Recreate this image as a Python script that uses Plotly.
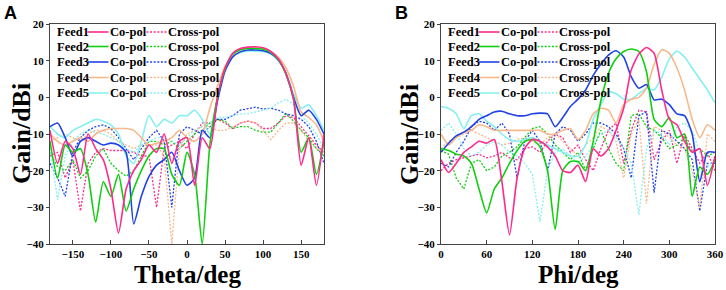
import plotly.graph_objects as go

# ---------------- data ----------------
theta = list(range(-180, 181, 10))
phi = list(range(0, 361, 10))

feeds = ["Feed1", "Feed2", "Feed3", "Feed4", "Feed5"]
colors = ["#FF2A8C", "#10CF10", "#2142E6", "#F7B98C", "#86F0F0"]

# Panel A (Theta cut) co-pol
a_f1_co = [-9, -18, -12, -14, -21, -10, -14, -17, -25, -37, -25, -20, -17, -13, -15, -10, -18, -12,
           -11, -24, -11, -14, 0, 8, 12, 13.3, 13.7, 13.8, 13.5, 12.5, 10.5, 6.5, -0.5, -18.5, -11, -24, -10]
a_f2_co = [-12, -22, -13, -15, -14, -21, -34, -23, -27, -21, -31, -25, -20, -16, -14, -14, -21, -24,
           -15, -21, -40, -13, 0, 7.8, 11.8, 13, 13.3, 13.3, 13.1, 12.3, 10.3, 6.3, -0.5, -15, -11, -21, -12]
a_f3_co = [-8, -7, -11, -16, -12, -11, -12, -13, -12.5, -13, -15, -34.5, -27, -21.6, -18.5, -17, -15, -20,
           -24, -22, -9, -11, -1, 7.2, 11, 12.4, 12.9, 12.9, 12.7, 12, 10.2, 6.5, 0, -5, -3.5, -6, -10]
a_f4_co = [-10, -12, -13, -12, -11, -12, -10, -9, -8.5, -8.5, -8.5, -9, -11, -13, -12.5, -12, -11, -9,
           -11, -12, -10, -3, 3, 8.5, 11.5, 13, 13.5, 13.5, 13.3, 12.5, 11, 8, 3, -4, -5.5, -7.5, -12]
a_f5_co = [-8, -10, -11, -9, -8, -7, -6, -6.5, -7.5, -10, -16, -18, -12, -5, -8, -6, -7, -5,
           -5, -3.5, -6, -10, 0, 7.5, 11, 12.2, 12.6, 12.6, 12.5, 11.8, 10, 6.8, 1, -3, -2, -5, -9]

# Panel A cross-pol
a_f1_x = [-16, -15, -22, -17, -31, -18, -15, -14, -14.5, -14.5, -14.5, -15, -16, -16, -30, -14, -13, -12,
          -14, -10, -7, -7, -6, -7, -8.5, -7, -6.5, -7, -8.5, -8.5, -7, -5, -5.5, -8, -10.5, -13, -15]
a_f2_x = [-15, -19, -20, -17, -22, -20, -16, -14, -18, -20, -21.5, -20, -16, -12, -12, -13, -12, -14,
          -12, -10, -9, -7, -6, -6.5, -8.5, -8, -8, -9, -9.5, -9.5, -7, -4.3, -6.5, -9, -11, -14, -16]
a_f3_x = [-18, -22, -27, -15, -11, -9, -8, -7.5, -8.5, -11, -14, -17, -14, -11, -9, -12, -30, -10,
          -8, -9, -10, -8, -6, -6, -5, -3.5, -3, -2.7, -3.2, -3, -3.5, -4.5, -5, -6, -8, -12, -18]
a_f4_x = [-12, -11, -10, -11, -12, -10, -9, -9, -10, -12, -13, -14, -13, -13, -13, -16, -40, -14,
          -10, -9, -8, -8, -9, -9, -8, -7, -6.5, -7, -9, -11.5, -9, -7, -7, -9, -12, -14, -15]
a_f5_x = [-14, -28, -16, -12, -10, -9, -9.5, -10, -11, -12, -14, -15, -13, -12, -11, -11, -12, -13,
          -11, -9, -8, -7, -5.5, -5.5, -5, -4.5, -4.5, -4, -3.5, -3, -1.5, -0.5, -2, -5, -7, -10, -14]

# Panel B (Phi cut) co-pol
b_f1_co = [-17, -20.5, -18, -15, -13.5, -12, -12.5, -11.5, -23, -37.5,
           -22, -14, -11.5, -12, -13.5, -16, -20, -20.5, -18.5, -23,
           -14, -16, -14, -9, -3, 7.5, 11.8, 13.6, 12, 2,
           -6, -7.5, -12, -15, -14, -24, -16]
b_f2_co = [-14, -14.5, -15.5, -16, -18, -25, -31.5, -25, -22, -18,
           -14.5, -12, -11.5, -13.5, -20, -36, -20, -17.5, -17.5, -20,
           -12, -1, 6.5, 10.5, 12.5, 13.2, 12.5, 7, -6, -8,
           -5.5, -11, -10, -27, -19, -21, -17]
b_f3_co = [-15, -12.5, -10.5, -9.5, -8, -6, -5, -4, -3.8, -4.5,
           -5, -5, -4.5, -4.3, -4.5, -8, -5.5, -2.5, -0.5, 2,
           6, 9, 11.5, 12.7, 11, 5.6, 2.5, 3.5, -0.7, -0.5,
           -2, -4.5, -5, -10, -23, -15, -15]
b_f4_co = [-10, -13, -11, -9.5, -9, -7.5, -8, -9, -9, -9,
           -9, -9, -9, -9, -10, -10, -9, -8.5, -11.5, -9,
           -4.5, -3, -3.5, -7, -2, -0.5, 0, 2.5, 9, 13,
           12, 8, 2, -6, -11, -7.5, -9]
b_f5_co = [-2.5, -3, -4.5, -8.5, -5, -4.5, -6.5, -8, -10, -11.5,
           -12, -11.5, -11, -12, -13, -14, -15, -16, -16, -13,
           -6, -2, 1.5, 1, -0.5, -0.5, 1, 2.5, 2, 5.5,
           10.5, 12.6, 11, 8, 5, 2, -1.5]

# Panel B cross-pol
b_f1_x = [-20, -18, -17, -16.5, -16, -15.5, -16.5, -16, -15, -16.5,
          -17, -14, -13.5, -15, -12, -10, -11, -15, -13, -17,
          -20, -14, -9, -7, -18, -9, -3.5, -4, -17, -12,
          -9, -18, -10, -14, -18, -15, -20]
b_f2_x = [-14.5, -15.5, -22, -25, -18, -17, -20, -19, -16, -15,
          -13.5, -11, -8.5, -8, -10, -13, -15, -17, -15, -20,
          -14, -9, -14, -18, -20, -5, -4.5, -8, -9, -11,
          -14, -13, -11, -15, -14, -16, -15]
b_f3_x = [-18, -19, -15, -12, -8, -6.5, -7, -9, -7, -10,
          -22, -12, -9, -12, -20, -10, -8, -9, -12, -10,
          -7, -7, -8, -10, -14, -22, -5, -4, -26, -9,
          -10, -12, -14, -17, -31, -18, -18]
b_f4_x = [-14, -12, -11, -10, -9, -10, -11, -12, -13, -12.5,
          -11.5, -11, -12, -13, -11, -10, -12, -14, -16, -13,
          -11, -8, -9, -12, -22, -10, -6, -29, -8, -9,
          -11, -13, -14, -20, -30, -10, -12]
b_f5_x = [-9, -7, -10, -14, -16, -15, -13, -12, -13, -15,
          -16, -18, -21, -34, -20, -15, -14, -16, -18, -16,
          -13, -10, -9, -11, -14, -18, -32, -14, -9, -10,
          -13, -8, -7, -9, -15, -19, -17]

a_co = [a_f1_co, a_f2_co, a_f3_co, a_f4_co, a_f5_co]
a_x = [a_f1_x, a_f2_x, a_f3_x, a_f4_x, a_f5_x]
b_co = [b_f1_co, b_f2_co, b_f3_co, b_f4_co, b_f5_co]
b_x = [b_f1_x, b_f2_x, b_f3_x, b_f4_x, b_f5_x]

x_ticks_a = [-150, -100, -50, 0, 50, 100, 150]
x_ticks_b = [0, 60, 120, 180, 240, 300, 360]
y_ticks = [-40, -30, -20, -10, 0, 10, 20]

# ---------------- figure ----------------
FONT = "Liberation Serif"
DOT = "2px,1.6px"
fig = go.Figure()

for xa, ya, ang, co, cx in [("x", "y", theta, a_co, a_x), ("x2", "y2", phi, b_co, b_x)]:
    for i in range(5):
        fig.add_trace(go.Scatter(x=ang, y=cx[i], mode="lines", xaxis=xa, yaxis=ya,
                                 line=dict(color=colors[i], width=1.3, dash=DOT),
                                 showlegend=False, hoverinfo="skip"))
    for i in range(4, -1, -1):
        fig.add_trace(go.Scatter(x=ang, y=co[i], mode="lines", xaxis=xa, yaxis=ya,
                                 line=dict(color=colors[i], width=1.6, shape="spline", smoothing=0.6),
                                 showlegend=False, hoverinfo="skip"))

W, H = 726, 290
ML, MR, MT, MB = 50, 11, 24, 46
PW = W - ML - MR
PH = H - MT - MB
pan_w = 274

tickfont = dict(family=FONT, size=11, color="black", weight="bold")
base = dict(showline=True, linecolor="#444", linewidth=1.2, mirror=True,
            showgrid=False, zeroline=False, automargin=False, tickfont=tickfont,
            tickcolor="#444", tickwidth=1)
xstyle = dict(base, ticks="inside", ticklen=4)
ystyle = dict(base, ticks="outside", ticklen=3)

fig.update_layout(
    width=W, height=H, margin=dict(l=ML, r=MR, t=MT, b=MB, autoexpand=False),
    paper_bgcolor="white", plot_bgcolor="white",
    xaxis=dict(domain=[0, pan_w / PW], range=[-180, 180], tickvals=x_ticks_a, anchor="y", **xstyle),
    yaxis=dict(domain=[0, 1], range=[-40, 20], tickvals=y_ticks, anchor="x", **ystyle),
    xaxis2=dict(domain=[1 - pan_w / PW, 1], range=[0, 360], tickvals=x_ticks_b, anchor="y2", **xstyle),
    yaxis2=dict(domain=[0, 1], range=[-40, 20], tickvals=y_ticks, anchor="x2", **ystyle),
)

# custom legend (text + key lines) inside each panel
row_px = [32, 46.5, 62, 77.5, 93]
leg_font = dict(family=FONT, size=12.5, color="black", weight="bold")
shapes = []
annos = []
for xr, yr in [("x domain", "y domain"), ("x2 domain", "y2 domain")]:
    for i, rp in enumerate(row_px):
        yd = 1 - (rp - MT) / PH
        for txt, off in [(feeds[i], 6), ("Co-pol", 59), ("Cross-pol", 117)]:
            annos.append(dict(text=txt, x=off / pan_w, y=yd, xref=xr, yref=yr, xanchor="left",
                              yanchor="middle", showarrow=False, font=leg_font, borderpad=0))
        shapes.append(dict(type="line", xref=xr, yref=yr, x0=37.5 / pan_w, x1=58.5 / pan_w, y0=yd, y1=yd,
                           line=dict(color=colors[i], width=1.6)))
        shapes.append(dict(type="line", xref=xr, yref=yr, x0=96.5 / pan_w, x1=116.5 / pan_w, y0=yd, y1=yd,
                           line=dict(color=colors[i], width=1.3, dash=DOT)))

# axis titles
xt_font = dict(family=FONT, size=25, color="black", weight="bold")
yt_font = dict(family=FONT, size=26, color="black", weight="bold")
for xr, txt, yr in [("x domain", "Theta/deg", "y domain"), ("x2 domain", "Phi/deg", "y2 domain")]:
    annos.append(dict(text=txt, x=0.5, y=-(274 - MT - PH) / PH, xref=xr, yref=yr, showarrow=False,
                      xanchor="center", yanchor="middle", font=xt_font))
for xcen, xr in [(21, "x domain"), (409, "x2 domain")]:
    left = 50 if xr == "x domain" else 441
    annos.append(dict(text="Gain/dBi", x=(xcen - left) / pan_w, y=0.5, xref=xr, yref="y domain",
                      showarrow=False, textangle=-90, xanchor="center", yanchor="middle", font=yt_font))

panel_font = dict(family="Liberation Sans", size=18, color="black", weight="bold")
annos.append(dict(text="A", x=(10 - ML) / PW, y=1 + (MT - 13.5) / PH, xref="paper", yref="paper",
                  showarrow=False, font=panel_font, xanchor="center", yanchor="middle"))
annos.append(dict(text="B", x=(401.5 - ML) / PW, y=1 + (MT - 13.5) / PH, xref="paper", yref="paper",
                  showarrow=False, font=panel_font, xanchor="center", yanchor="middle"))

fig.update_layout(shapes=shapes, annotations=annos)
fig.write_html("out.html", config={"displayModeBar": False},
               post_script="document.body.style.margin='0px';document.body.style.padding='0px';")
